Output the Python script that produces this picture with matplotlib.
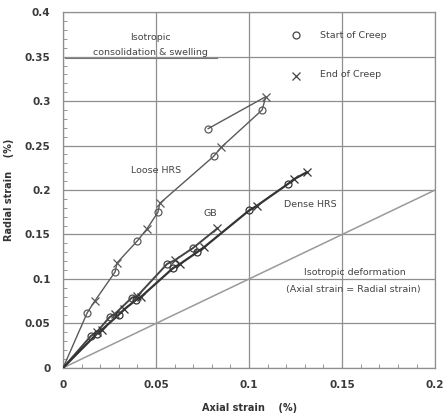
import matplotlib
matplotlib.use("Agg")
import matplotlib.pyplot as plt

# Loose HRS (alternating start/end of creep)
loose_x = [0.0, 0.013, 0.017, 0.028, 0.029, 0.040, 0.045, 0.051, 0.052, 0.081, 0.085, 0.107, 0.109, 0.078]
loose_y = [0.0, 0.062, 0.075, 0.108, 0.118, 0.143, 0.156, 0.175, 0.185, 0.238, 0.248, 0.290, 0.305, 0.269]
loose_kind = ['-', 'o', 'x', 'o', 'x', 'o', 'x', 'o', 'x', 'o', 'x', 'o', 'x', 'o']

# GB
gb_x = [0.0, 0.015, 0.018, 0.025, 0.028, 0.037, 0.040, 0.056, 0.060, 0.070, 0.083]
gb_y = [0.0, 0.036, 0.040, 0.057, 0.061, 0.079, 0.081, 0.117, 0.121, 0.135, 0.157]
gb_kind = ['-', 'o', 'x', 'o', 'x', 'o', 'x', 'o', 'x', 'o', 'x']

# Dense HRS
dense_x = [0.0, 0.018, 0.021, 0.030, 0.033, 0.039, 0.042, 0.059, 0.063, 0.072, 0.076, 0.100, 0.104, 0.121, 0.124, 0.131]
dense_y = [0.0, 0.038, 0.043, 0.060, 0.066, 0.076, 0.080, 0.112, 0.117, 0.130, 0.136, 0.177, 0.182, 0.207, 0.212, 0.220]
dense_kind = ['-', 'o', 'x', 'o', 'x', 'o', 'x', 'o', 'x', 'o', 'x', 'o', 'x', 'o', 'x', 'x']

iso_x = [0.0, 0.2]
iso_y = [0.0, 0.2]

x_ticks = [0, 0.05, 0.1, 0.15, 0.2]
x_ticklabels = ['0', '0.05', '0.1', '0.15', '0.2']
y_ticks = [0, 0.05, 0.1, 0.15, 0.2, 0.25, 0.3, 0.35, 0.4]
y_ticklabels = ['0', '0.05', '0.1', '0.15', '0.2', '0.25', '0.3', '0.35', '0.4']

fig = plt.figure(figsize=(4.44, 4.19), dpi=100)
ax = fig.add_axes([0.142, 0.122, 0.838, 0.849])
ax.set_xlim(0, 0.2)
ax.set_ylim(0, 0.4)

grid_c = '#8f8f8f'
ax.set_xticks(x_ticks)
ax.set_xticklabels(x_ticklabels)
ax.set_yticks(y_ticks)
ax.set_yticklabels(y_ticklabels)
ax.set_xticks([i * 0.01 for i in range(21)], minor=True)
ax.set_yticks([i * 0.01 for i in range(41)], minor=True)
ax.grid(True, which='major', color=grid_c, linewidth=0.9)
ax.tick_params(which='major', length=0, labelsize=7.5, colors='#3a3a3a', pad=9)
ax.tick_params(which='minor', direction='in', length=3, color='#888888')
for lab in ax.get_xticklabels() + ax.get_yticklabels():
    lab.set_fontweight('bold')
for s in ax.spines.values():
    s.set_color(grid_c)
    s.set_linewidth(0.9)

ax.plot(iso_x, iso_y, color='#9a9a9a', lw=1.1, zorder=2)

def draw(xs, ys, kinds, color, lw):
    ax.plot(xs, ys, color=color, lw=lw, zorder=3)
    ox = [x for x, k in zip(xs, kinds) if k == 'o']
    oy = [y for y, k in zip(ys, kinds) if k == 'o']
    xx = [x for x, k in zip(xs, kinds) if k == 'x']
    xy = [y for y, k in zip(ys, kinds) if k == 'x']
    ax.plot(ox, oy, 'o', mfc='none', mec=color, ms=5, mew=0.9, zorder=4)
    ax.plot(xx, xy, 'x', color=color, ms=6, mew=0.9, zorder=4)

draw(loose_x, loose_y, loose_kind, '#5a5a5a', 1.0)
draw(gb_x, gb_y, gb_kind, '#444444', 1.4)
draw(dense_x, dense_y, dense_kind, '#333333', 1.6)

tc = '#444444'
fs = 6.8
ax.text(0.047, 0.371, 'Isotropic', ha='center', va='center', fontsize=fs, color=tc)
ax.text(0.047, 0.355, 'consolidation & swelling', ha='center', va='center', fontsize=fs, color=tc)
ax.plot([0.001, 0.083], [0.349, 0.349], color='#777777', lw=0.8)

ax.plot([0.125], [0.374], 'o', mfc='none', mec='#444444', ms=5, mew=0.9)
ax.text(0.138, 0.374, 'Start of Creep', ha='left', va='center', fontsize=fs, color=tc)
ax.plot([0.125], [0.328], 'x', color='#444444', ms=6, mew=0.9)
ax.text(0.138, 0.330, 'End of Creep', ha='left', va='center', fontsize=fs, color=tc)

ax.text(0.050, 0.222, 'Loose HRS', ha='center', va='center', fontsize=fs, color=tc)
ax.text(0.079, 0.174, 'GB', ha='center', va='center', fontsize=fs, color=tc)
ax.text(0.133, 0.184, 'Dense HRS', ha='center', va='center', fontsize=fs, color=tc)
ax.text(0.157, 0.107, 'Isotropic deformation', ha='center', va='center', fontsize=fs, color=tc)
ax.text(0.156, 0.088, '(Axial strain = Radial strain)', ha='center', va='center', fontsize=fs, color=tc)

ax.set_xlabel('Axial strain    (%)', fontsize=7, fontweight='bold', color='#333333', labelpad=9)
ax.set_ylabel('Radial strain    (%)', fontsize=7, fontweight='bold', color='#333333', labelpad=8)

fig.savefig('out.png', dpi=100, facecolor='white')
